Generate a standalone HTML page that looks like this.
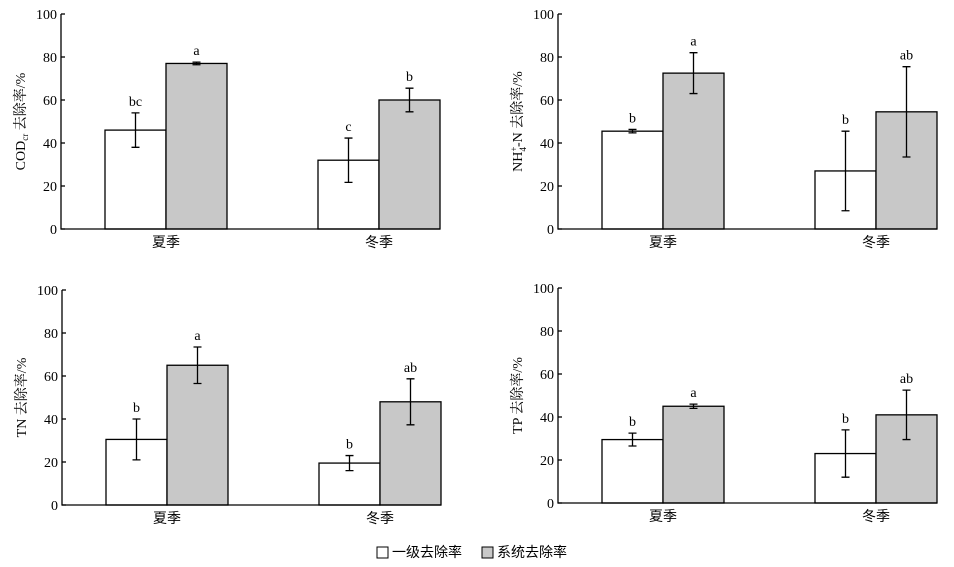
<!DOCTYPE html>
<html><head><meta charset="utf-8"><style>
body{margin:0;background:#fff}
svg{display:block;font-family:"Liberation Serif","Noto Serif CJK SC",serif}
</style></head><body>
<svg id="c" width="954" height="567">
<g>
<rect x="377" y="547" width="11" height="11" fill="#fff" stroke="#000"/>
<text x="392" y="557" font-size="14" font-family="Liberation Sans,Noto Sans CJK SC,sans-serif">一级去除率</text>
<rect x="482" y="547" width="11" height="11" fill="#c8c8c8" stroke="#000"/>
<text x="497" y="557" font-size="14" font-family="Liberation Sans,Noto Sans CJK SC,sans-serif">系统去除率</text>
</g>
</svg>
<script>
const categories=["夏季","冬季"];
const ticks=[0,20,40,60,80,100];
const codPrimary=[46,32], codPrimaryErr=[8,10.3], codSystem=[77,60], codSystemErr=[0.6,5.5];
const codLabels=[["bc","a"],["c","b"]];
const nhPrimary=[45.5,27], nhPrimaryErr=[0.8,18.5], nhSystem=[72.5,54.5], nhSystemErr=[9.5,21];
const nhLabels=[["b","a"],["b","ab"]];
const tnPrimary=[30.5,19.5], tnPrimaryErr=[9.5,3.5], tnSystem=[65,48], tnSystemErr=[8.5,10.7];
const tnLabels=[["b","a"],["b","ab"]];
const tpPrimary=[29.5,23], tpPrimaryErr=[3,11], tpSystem=[45,41], tpSystemErr=[1,11.5];
const tpLabels=[["b","a"],["b","ab"]];
const panels=[
 {name:"cod",ax:61,y0:229,y100:14,title:"CODcr",p:codPrimary,pe:codPrimaryErr,s:codSystem,se:codSystemErr,l:codLabels},
 {name:"nh4",ax:558,y0:229,y100:14,title:"NH4",p:nhPrimary,pe:nhPrimaryErr,s:nhSystem,se:nhSystemErr,l:nhLabels},
 {name:"tn",ax:62,y0:505,y100:290,title:"TN 去除率/%",p:tnPrimary,pe:tnPrimaryErr,s:tnSystem,se:tnSystemErr,l:tnLabels},
 {name:"tp",ax:558,y0:503,y100:288,title:"TP 去除率/%",p:tpPrimary,pe:tpPrimaryErr,s:tpSystem,se:tpSystemErr,l:tpLabels}
];
const svg=document.getElementById('c');const NS="http://www.w3.org/2000/svg";
function mk(t,a,par,txt){const e=document.createElementNS(NS,t);for(const k in a)e.setAttribute(k,a[k]);if(txt!=null)e.textContent=txt;par.appendChild(e);return e;}
panels.forEach(P=>{
 const g=mk('g',{},svg);
 
 
 const y=v=>P.y0+(P.y100-P.y0)*v/100;
 const groupX=i=>P.ax+44+i*213; // left edge of group
 const bw=61;
 for(let i=0;i<2;i++){
  const gx=groupX(i);
  [[P.p,P.pe,'#fff','primary',0],[P.s,P.se,'#c8c8c8','system',1]].forEach(([arr,err,fill,nm,k])=>{
   const x=gx+k*bw, v=arr[i], e=err[i];
   const r=mk('rect',{x:x,y:y(v),width:bw,height:P.y0-y(v),fill:fill,stroke:'#000','stroke-width':1.3},g);
   
   
   const cx=x+bw/2;
   const eb=mk('path',{d:`M${cx},${y(v+e)}V${y(v-e)}M${cx-4},${y(v+e)}H${cx+4}M${cx-4},${y(v-e)}H${cx+4}`,stroke:'#000','stroke-width':1.3,fill:'none'},g);
   
   
   const lt=mk('text',{x:cx,y:y(v+e)-7,'font-size':14,'text-anchor':'middle'},g,P.l[i][k]);
   
   
  });
  const ct=mk('text',{x:gx+bw,y:P.y0+18,'font-size':14,'text-anchor':'middle','font-family':'Liberation Sans,Noto Sans CJK SC,sans-serif'},g,categories[i]);
  
  
 }
 const axis=mk('path',{d:`M${P.ax},${y(100)}V${P.y0}H${groupX(1)+2*bw}`,stroke:'#000','stroke-width':1.3,fill:'none'},g);
 
 
 ticks.forEach(t=>{
  const tk=mk('path',{d:`M${P.ax},${y(t)}H${P.ax+4}`,stroke:'#000','stroke-width':1.3},g);
  
  
  const tl=mk('text',{x:P.ax-4,y:y(t)+5,'font-size':14,'text-anchor':'end'},g,t);
  
  
 });
 const cy=(P.y0+P.y100)/2, tx=P.ax-36;
 const tt=mk('text',{x:tx,y:cy,'font-size':14,'text-anchor':'middle',transform:`rotate(-90 ${tx} ${cy})`},g);
 
 
 if(P.title==="CODcr"){tt.innerHTML='COD<tspan font-size="9" dy="3">cr</tspan><tspan dy="-3"> 去除率/%</tspan>';}
 else if(P.title==="NH4"){tt.innerHTML='NH<tspan font-size="9" dy="-5">+</tspan><tspan font-size="9" dx="-5" dy="9">4</tspan><tspan dy="-4">-N 去除率/%</tspan>';}
 else tt.textContent=P.title;
});
</script>
</body></html>
